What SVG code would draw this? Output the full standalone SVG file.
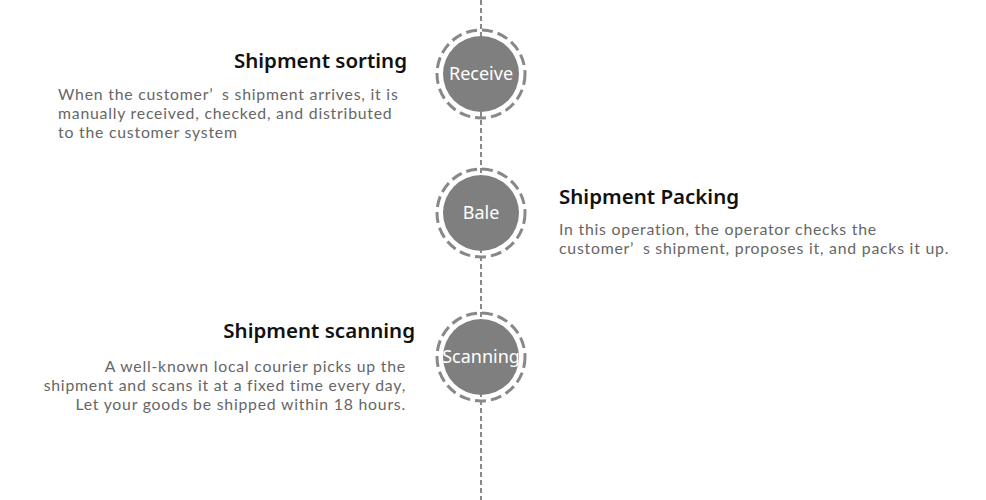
<svg xmlns="http://www.w3.org/2000/svg" width="986" height="500" viewBox="0 0 986 500">
<style>
.title{font-family:"Noto Sans","Open Sans",sans-serif;font-weight:600;font-size:20.5px;fill:#111}
.body{font-family:Lato,"Noto Sans",sans-serif;font-size:15.8px;letter-spacing:0.78px;fill:#666}
.lbl{font-family:"Noto Sans","Open Sans",sans-serif;font-size:18px;fill:#fff;text-anchor:middle}
.ring{fill:none;stroke:#888;stroke-width:3;stroke-dasharray:11 5}
.dot{fill:#7f7f7f}
</style>
<rect width="986" height="500" fill="#fff"/>
<g id="connectors">
<line x1="481" y1="0" x2="481" y2="500" stroke="#888" stroke-width="2" stroke-dasharray="5 3"/>
</g>
<g id="receive">
<circle class="ring" cx="481" cy="74" r="44"/>
<circle class="dot" cx="481" cy="74" r="38"/>
<text class="lbl" x="481" y="80">Receive</text>
</g>
<g id="bale">
<circle class="ring" cx="481" cy="213" r="44"/>
<circle class="dot" cx="481" cy="213" r="38"/>
<text class="lbl" x="481" y="219">Bale</text>
</g>
<g id="scanning">
<circle class="ring" cx="481" cy="357" r="44"/>
<circle class="dot" cx="481" cy="357" r="38"/>
<text class="lbl" x="481" y="363">Scanning</text>
</g>
<g id="sorting-text">
<text class="title" x="407" y="68" text-anchor="end">Shipment sorting</text>
<text class="body"><tspan x="58" y="100">When the customer’</tspan><tspan dx="9">s shipment arrives, it is</tspan><tspan x="58" y="119">manually received, checked, and distributed</tspan><tspan x="58" y="138">to the customer system</tspan></text>
</g>
<g id="packing-text">
<text class="title" x="559" y="204">Shipment Packing</text>
<text class="body"><tspan x="559" y="235">In this operation, the operator checks the</tspan><tspan x="559" y="254">customer’</tspan><tspan dx="9">s shipment, proposes it, and packs it up.</tspan></text>
</g>
<g id="scanning-text">
<text class="title" x="415" y="338" text-anchor="end">Shipment scanning</text>
<text class="body" text-anchor="end"><tspan x="406" y="372">A well-known local courier picks up the</tspan><tspan x="406" y="391">shipment and scans it at a fixed time every day,</tspan><tspan x="406" y="410">Let your goods be shipped within 18 hours.</tspan></text>
</g>
</svg>
